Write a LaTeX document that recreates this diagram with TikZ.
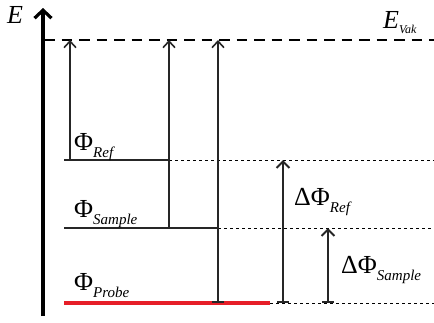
\documentclass[tikz,border=0pt]{standalone}
\usepackage{fontspec}
\setmainfont{Liberation Serif}
\usetikzlibrary{arrows.meta}
\definecolor{probered}{RGB}{230,30,40}
\newcommand{\sub}[1]{\raisebox{-7pt}{\fontsize{15}{15}\selectfont\itshape #1}}
\newcommand{\smallsub}[1]{\raisebox{-5pt}{\fontsize{12}{12}\selectfont\itshape #1}}
\begin{document}
\begin{tikzpicture}[x=1pt,y=-1pt,
  lbl/.style={font=\fontsize{26}{26}\selectfont, inner sep=0pt, anchor=base west},
  level/.style={line width=2.4pt, black!85},
  uparrow/.style={line width=1.7pt, black!85, -{Straight Barb[length=6.5pt,width=12pt,line width=1.6pt]}},
  teearrow/.style={line width=2.2pt, black!85, {Bar[width=12pt,line width=2.2pt]}-{Straight Barb[length=6.5pt,width=13pt,line width=2pt]}},
  dotline/.style={line width=1pt, dash pattern=on 2.5pt off 3.5pt},
  vac/.style={line width=2.3pt, dash pattern=on 10.5pt off 7pt}]
\useasboundingbox (0,0) rectangle (434,322);
% axis
\coordinate (ax0) at (43,316);
\coordinate (ax1) at (43,8);
\draw[line width=3.4pt, -{Straight Barb[length=8pt,width=17pt,line width=3.2pt]}] (ax0) -- (ax1);
\node[lbl, font=\fontsize{26}{26}\selectfont\itshape] (E) at (7,23) {E};
% vacuum level
\coordinate (v0) at (44,40);
\coordinate (v1) at (434,40);
\draw[vac] (v0) -- (v1);
\node[lbl] (Evak) at (383,28) {\itshape E\smallsub{Vak}};
% levels
\coordinate (r0) at (64,160); \coordinate (r1) at (169,160);
\coordinate (s0) at (64,228); \coordinate (s1) at (218,228);
\coordinate (p0) at (64,303); \coordinate (p1) at (270,303);
\draw[level] (r0) -- (r1);
\draw[level] (s0) -- (s1);
\draw[line width=3.2pt, probered] (p0) -- (p1);
% dotted extensions
\coordinate (re) at (434,160); \coordinate (se) at (434,228); \coordinate (pe) at (434,303);
\draw[dotline] (r1) -- (re);
\draw[dotline] (s1) -- (se);
\draw[dotline] (p1) -- (pe);
% arrows to vacuum
\coordinate (a1b) at (70,160); \coordinate (a1t) at (70,40);
\coordinate (a2b) at (169,228); \coordinate (a2t) at (169,40);
\coordinate (a3b) at (218,303); \coordinate (a3t) at (218,40);
\draw[uparrow] (a1b) -- (a1t);
\draw[uparrow] (a2b) -- (a2t);
\draw[uparrow, {Bar[width=12pt,line width=1.8pt]}-{Straight Barb[length=6.5pt,width=12pt,line width=1.6pt]}] (a3b) -- (a3t);
% delta arrows
\coordinate (d1b) at (283,303); \coordinate (d1t) at (283,160);
\coordinate (d2b) at (328,303); \coordinate (d2t) at (328,228);
\draw[teearrow] (d1b) -- (d1t);
\draw[teearrow] (d2b) -- (d2t);
% labels
\node[lbl] (lr) at (74,150) {Φ\sub{Ref}};
\node[lbl] (ls) at (74,217) {Φ\sub{Sample}};
\node[lbl] (lp) at (74,290) {Φ\sub{Probe}};
\node[lbl] (ldr) at (294,205) {ΔΦ\sub{Ref}};
\node[lbl] (lds) at (341,273) {ΔΦ\sub{Sample}};
\end{tikzpicture}
\end{document}
